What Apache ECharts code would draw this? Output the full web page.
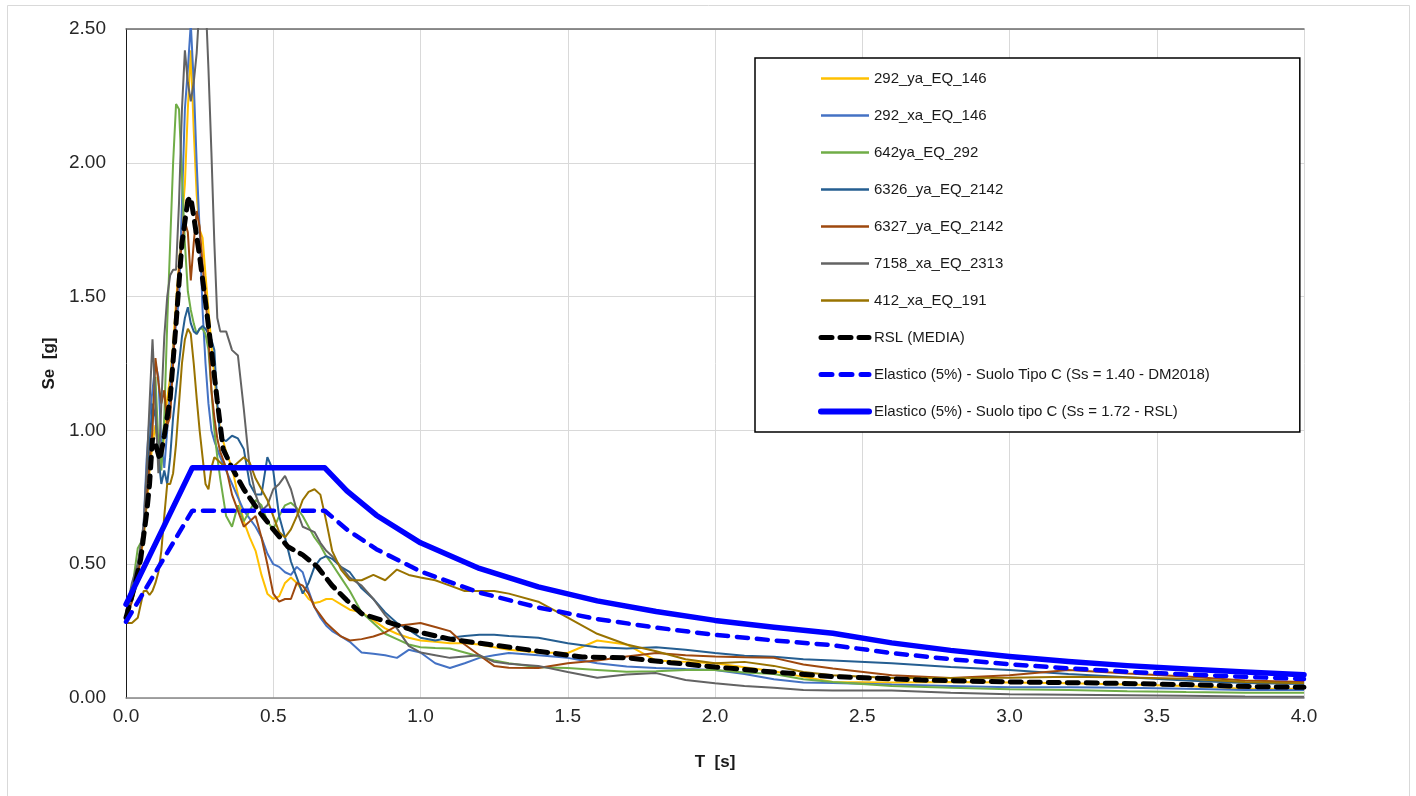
<!DOCTYPE html>
<html>
<head>
<meta charset="utf-8">
<script src="https://cdn.jsdelivr.net/npm/echarts@6/dist/echarts.min.js"></script>
<style>
	html, body { margin: 0; padding: 0; background: #fff; }
	#spectraChart { width: 1416px; height: 796px; }
</style>
</head>
<body>
<div id="spectraChart"></div>
<script>
// periodi comuni per gli accelerogrammi [s]
var periods = [0, 0.02, 0.04, 0.06, 0.07, 0.08, 0.09, 0.10, 0.11, 0.12,
	0.13, 0.14, 0.15, 0.16, 0.17, 0.18, 0.19, 0.20, 0.21, 0.22,
	0.23, 0.24, 0.25, 0.26, 0.27, 0.28, 0.29, 0.30, 0.31, 0.32,
	0.34, 0.36, 0.38, 0.40, 0.42, 0.44, 0.46, 0.48, 0.50, 0.52,
	0.54, 0.56, 0.58, 0.60, 0.62, 0.64, 0.66, 0.68, 0.70, 0.73,
	0.76, 0.80, 0.84, 0.88, 0.92, 0.96, 1.00, 1.05, 1.10, 1.15,
	1.20, 1.25, 1.30, 1.40, 1.50, 1.60, 1.70, 1.80, 1.90, 2.00,
	2.10, 2.20, 2.30, 2.40, 2.60, 2.80, 3.00, 3.20, 3.40, 3.60,
	3.80, 4.00]

var ya292 = [0.30, 0.36, 0.45, 0.60, 0.72, 0.85, 0.95, 1.02, 0.92, 0.88,
	0.98, 1.12, 1.20, 1.32, 1.48, 1.62, 1.78, 1.92, 2.20, 2.42,
	2.12, 1.88, 1.75, 1.72, 1.58, 1.45, 1.32, 1.20, 1.08, 1.00,
	0.92, 0.86, 0.76, 0.66, 0.60, 0.55, 0.46, 0.39, 0.37, 0.38,
	0.43, 0.45, 0.43, 0.40, 0.37, 0.355, 0.36, 0.37, 0.37, 0.35,
	0.33, 0.32, 0.29, 0.26, 0.24, 0.225, 0.215, 0.21, 0.205, 0.205,
	0.20, 0.19, 0.18, 0.17, 0.168, 0.215, 0.20, 0.14, 0.135, 0.13,
	0.115, 0.10, 0.079, 0.06, 0.058, 0.06, 0.058, 0.055, 0.05, 0.045,
	0.035, 0.035]

var xa292 = [0.30, 0.37, 0.47, 0.65, 0.89, 1.05, 1.15, 1.25, 1.20, 0.95,
	0.86, 1.00, 1.15, 1.30, 1.40, 1.49, 1.85, 2.20, 2.35, 2.52,
	2.30, 2.00, 1.75, 1.45, 1.25, 1.10, 1.00, 0.96, 0.93, 0.90,
	0.85, 0.80, 0.75, 0.70, 0.67, 0.64, 0.60, 0.54, 0.50, 0.49,
	0.47, 0.46, 0.49, 0.47, 0.40, 0.34, 0.30, 0.27, 0.25, 0.23,
	0.21, 0.17, 0.165, 0.16, 0.15, 0.18, 0.17, 0.13, 0.112, 0.13,
	0.15, 0.16, 0.168, 0.16, 0.15, 0.13, 0.118, 0.112, 0.108, 0.105,
	0.09, 0.07, 0.058, 0.056, 0.05, 0.045, 0.04, 0.04, 0.038, 0.035,
	0.03, 0.03]

var ya642 = [0.30, 0.40, 0.56, 0.60, 0.75, 0.90, 1.05, 1.20, 0.95, 0.85,
	1.05, 1.40, 1.70, 2.00, 2.22, 2.20, 1.95, 1.70, 1.52, 1.45,
	1.40, 1.36, 1.38, 1.38, 1.36, 1.30, 1.15, 1.00, 0.90, 0.82,
	0.68, 0.64, 0.72, 0.66, 0.70, 0.74, 0.72, 0.66, 0.63, 0.68,
	0.72, 0.73, 0.71, 0.68, 0.64, 0.60, 0.57, 0.53, 0.50, 0.45,
	0.40, 0.32, 0.28, 0.24, 0.22, 0.20, 0.19, 0.187, 0.185, 0.17,
	0.155, 0.14, 0.13, 0.115, 0.112, 0.105, 0.098, 0.10, 0.105, 0.105,
	0.095, 0.09, 0.07, 0.06, 0.045, 0.038, 0.033, 0.03, 0.025, 0.022,
	0.02, 0.02]

var ya6326 = [0.32, 0.40, 0.50, 0.62, 0.78, 0.95, 1.10, 1.05, 0.90, 0.80,
	0.85, 0.80, 0.90, 1.05, 1.15, 1.25, 1.35, 1.42, 1.46, 1.40,
	1.37, 1.36, 1.38, 1.39, 1.38, 1.36, 1.34, 1.30, 1.10, 0.97,
	0.96, 0.98, 0.97, 0.93, 0.80, 0.76, 0.76, 0.90, 0.85, 0.68,
	0.60, 0.51, 0.45, 0.39, 0.43, 0.49, 0.52, 0.53, 0.52, 0.49,
	0.47, 0.41, 0.37, 0.32, 0.28, 0.255, 0.225, 0.215, 0.225, 0.232,
	0.236, 0.236, 0.232, 0.225, 0.205, 0.19, 0.185, 0.19, 0.18, 0.168,
	0.158, 0.154, 0.145, 0.14, 0.13, 0.116, 0.105, 0.09, 0.078, 0.065,
	0.056, 0.052]

var ya6327 = [0.30, 0.36, 0.45, 0.62, 0.75, 0.88, 1.00, 1.27, 1.18, 1.10,
	1.15, 1.02, 1.05, 1.25, 1.45, 1.60, 1.70, 1.78, 1.74, 1.56,
	1.70, 1.82, 1.76, 1.62, 1.50, 1.35, 1.15, 1.05, 0.97, 0.92,
	0.86, 0.76, 0.70, 0.64, 0.66, 0.68, 0.60, 0.50, 0.39, 0.36,
	0.37, 0.37, 0.43, 0.42, 0.39, 0.34, 0.31, 0.28, 0.26, 0.23,
	0.215, 0.22, 0.23, 0.245, 0.27, 0.275, 0.28, 0.265, 0.25, 0.20,
	0.16, 0.12, 0.113, 0.112, 0.13, 0.14, 0.155, 0.168, 0.16, 0.155,
	0.152, 0.15, 0.125, 0.11, 0.085, 0.075, 0.085, 0.105, 0.092, 0.08,
	0.065, 0.06]

var xa7158 = [0.32, 0.43, 0.50, 0.65, 0.85, 1.10, 1.34, 1.10, 0.84, 1.10,
	1.35, 1.50, 1.58, 1.60, 1.60, 1.85, 2.20, 2.42, 2.30, 2.23,
	2.30, 2.41, 2.60, 2.75, 2.62, 2.35, 2.04, 1.70, 1.42, 1.37,
	1.37, 1.30, 1.28, 1.08, 0.86, 0.76, 0.70, 0.72, 0.78, 0.80,
	0.83, 0.78, 0.70, 0.64, 0.63, 0.62, 0.58, 0.55, 0.53, 0.49,
	0.45, 0.42, 0.37, 0.31, 0.26, 0.195, 0.17, 0.16, 0.15, 0.155,
	0.16, 0.135, 0.128, 0.12, 0.097, 0.076, 0.088, 0.093, 0.067, 0.055,
	0.045, 0.038, 0.03, 0.028, 0.028, 0.02, 0.014, 0.012, 0.01, 0.008,
	0.006, 0.005]

var xa412 = [0.28, 0.28, 0.30, 0.40, 0.40, 0.385, 0.40, 0.43, 0.47, 0.55,
	0.68, 0.80, 0.80, 0.84, 0.95, 1.10, 1.25, 1.34, 1.38, 1.36,
	1.25, 1.12, 1.00, 0.90, 0.80, 0.78, 0.86, 0.90, 0.89, 0.88,
	0.86, 0.86, 0.88, 0.90, 0.88, 0.82, 0.78, 0.74, 0.68, 0.62,
	0.60, 0.63, 0.68, 0.74, 0.77, 0.78, 0.76, 0.66, 0.55, 0.48,
	0.44, 0.44, 0.46, 0.44, 0.48, 0.46, 0.45, 0.44, 0.42, 0.40,
	0.40, 0.40, 0.39, 0.36, 0.30, 0.24, 0.20, 0.175, 0.145, 0.13,
	0.135, 0.12, 0.097, 0.085, 0.075, 0.075, 0.076, 0.079, 0.077, 0.072,
	0.06, 0.055]

// media RSL
var rslPeriods = [0, 0.03, 0.05, 0.07, 0.08, 0.09, 0.10, 0.115, 0.13, 0.15,
	0.17, 0.19, 0.21, 0.22, 0.23, 0.25, 0.27, 0.29, 0.31, 0.33,
	0.36, 0.40, 0.45, 0.50, 0.55, 0.60, 0.65, 0.70, 0.75, 0.80,
	0.90, 1.0, 1.1, 1.2, 1.4, 1.55, 1.7, 1.85, 2.0, 2.2,
	2.4, 2.7, 3.0, 3.3, 3.6, 3.85, 4.0]
var rslMedia = [0.30, 0.42, 0.52, 0.69, 0.80, 0.97, 0.95, 0.89, 0.98, 1.12,
	1.40, 1.70, 1.86, 1.87, 1.80, 1.65, 1.48, 1.30, 1.11, 0.93,
	0.86, 0.78, 0.70, 0.63, 0.565, 0.535, 0.49, 0.42, 0.365, 0.315,
	0.28, 0.245, 0.22, 0.205, 0.175, 0.153, 0.15, 0.132, 0.116, 0.097,
	0.08, 0.067, 0.06, 0.056, 0.05, 0.042, 0.04]

// spettri elastici
var elPeriods = [0, 0.225, 0.675, 0.75, 0.85, 1.0, 1.2, 1.4, 1.6, 1.8,
	2.0, 2.2, 2.4, 2.6, 2.8, 3.0, 3.2, 3.4, 3.6, 3.8, 4.0]
var elDM2018 = [0.285, 0.70, 0.70, 0.63, 0.556, 0.473, 0.394, 0.338, 0.295, 0.263,
	0.236, 0.215, 0.197, 0.168, 0.145, 0.126, 0.111, 0.098, 0.088, 0.079, 0.071]
var elRSL = [0.35, 0.86, 0.86, 0.774, 0.683, 0.58, 0.484, 0.415, 0.363, 0.323,
	0.29, 0.264, 0.242, 0.206, 0.178, 0.155, 0.136, 0.121, 0.108, 0.097, 0.087]

var xTicks = [0, 0.5, 1.0, 1.5, 2.0, 2.5, 3.0, 3.5, 4.0]
var yTicks = [0, 0.5, 1.0, 1.5, 2.0, 2.5]

var names = ['292_ya_EQ_146', '292_xa_EQ_146', '642ya_EQ_292', '6326_ya_EQ_2142',
	'6327_ya_EQ_2142', '7158_xa_EQ_2313', '412_xa_EQ_191', 'RSL (MEDIA)',
	'Elastico (5%) - Suolo Tipo C (Ss = 1.40 - DM2018)',
	'Elastico (5%) - Suolo tipo C (Ss = 1.72 - RSL)']
var colors = ['#ffc000', '#4472c4', '#70ad47', '#255e91', '#9e480e', '#636363', '#997300',
	'#000000', '#0000ff', '#0000ff']

function pairs(xs, ys) {
	return xs.map(function (t, i) {
		return [t, ys[i]]
	})
}

function recordSeries(idx, values) {
	return {
		name: names[idx],
		type: 'line',
		data: pairs(periods, values),
		symbol: 'none',
		lineStyle: { color: colors[idx], width: 2 },
		itemStyle: { color: colors[idx] },
	}
}

function drawSpectra() {
	var chartDom = document.getElementById('spectraChart')
	var myChart = echarts.init(chartDom)
	var option

	var legendData = names.map(function (n, i) {
		var w = 2.5
		if (i == 7) w = 5
		if (i == 8) w = 5
		if (i == 9) w = 6
		return { name: n, lineStyle: { width: w }, itemStyle: { opacity: 0 } }
	})

	option = {
		animation: false,
		backgroundColor: '#ffffff',
		textStyle: { fontFamily: 'Liberation Sans' },
		graphic: [
			{
				type: 'rect',
				shape: { x: 7.5, y: 5.5, width: 1402, height: 800 },
				style: { fill: null, stroke: '#d9d9d9', lineWidth: 1 },
				silent: true,
			},
		],
		legend: {
			orient: 'vertical',
			left: 755,
			top: 58,
			padding: [13, 90, 13, 63],
			borderColor: '#000000',
			borderWidth: 1.5,
			backgroundColor: '#ffffff',
			itemWidth: 48,
			itemHeight: 14,
			itemGap: 22,
			itemStyle: { opacity: 0 },
			textStyle: { fontSize: 15, color: '#1a1a1a', fontFamily: 'Liberation Sans' },
			data: legendData,
		},
		grid: {
			left: 126,
			right: 112,
			top: 29,
			bottom: 98,
		},
		xAxis: [
			{
				type: 'value',
				min: 0,
				max: 4,
				interval: 0.5,
				name: 'T  [s]',
				nameLocation: 'middle',
				nameGap: 56,
				nameTextStyle: { fontSize: 17, fontWeight: 'bold', color: '#1a1a1a' },
				axisLine: { lineStyle: { color: '#868686', width: 1.5 } },
				axisTick: { show: false },
				axisLabel: {
					fontSize: 19,
					color: '#262626',
					margin: 9,
					formatter: function (v) {
						return xTicks.indexOf(v) >= 0 ? v.toFixed(1) : ''
					},
				},
				splitLine: { lineStyle: { color: '#d9d9d9', width: 1 } },
			},
			{
				type: 'value',
				position: 'top',
				min: 0,
				max: 4,
				axisLine: { show: true, lineStyle: { color: '#6b6b6b', width: 1.5 } },
				axisTick: { show: false },
				axisLabel: { show: false },
				splitLine: { show: false },
			},
		],
		yAxis: {
			type: 'value',
			min: 0,
			max: 2.5,
			interval: 0.5,
			name: 'Se  [g]',
			nameLocation: 'middle',
			nameGap: 68,
			nameTextStyle: { fontSize: 17, fontWeight: 'bold', color: '#1a1a1a' },
			axisLine: { show: true, lineStyle: { color: '#1a1a1a', width: 1 } },
			axisTick: { show: false },
			axisLabel: {
				fontSize: 19,
				color: '#262626',
				margin: 20,
				formatter: function (v) {
					return yTicks.indexOf(v) >= 0 ? v.toFixed(2) : ''
				},
			},
			splitLine: { lineStyle: { color: '#d9d9d9', width: 1 } },
		},
		series: [
			recordSeries(0, ya292),
			recordSeries(1, xa292),
			recordSeries(2, ya642),
			recordSeries(3, ya6326),
			recordSeries(4, ya6327),
			recordSeries(5, xa7158),
			recordSeries(6, xa412),
			{
				name: names[7],
				type: 'line',
				data: pairs(rslPeriods, rslMedia),
				symbol: 'none',
				lineStyle: { color: '#000000', width: 5, type: [11, 8], cap: 'round' },
				itemStyle: { color: '#000000' },
			},
			{
				name: names[8],
				type: 'line',
				data: pairs(elPeriods, elDM2018),
				symbol: 'none',
				lineStyle: { color: '#0000ff', width: 4.5, type: [11, 9], cap: 'round' },
				itemStyle: { color: '#0000ff' },
			},
			{
				name: names[9],
				type: 'line',
				data: pairs(elPeriods, elRSL),
				symbol: 'none',
				lineStyle: { color: '#0000ff', width: 5.5, cap: 'round', join: 'round' },
				itemStyle: { color: '#0000ff' },
			},
		],
	}

	option && myChart.setOption(option)
}

drawSpectra()
</script>
</body>
</html>
